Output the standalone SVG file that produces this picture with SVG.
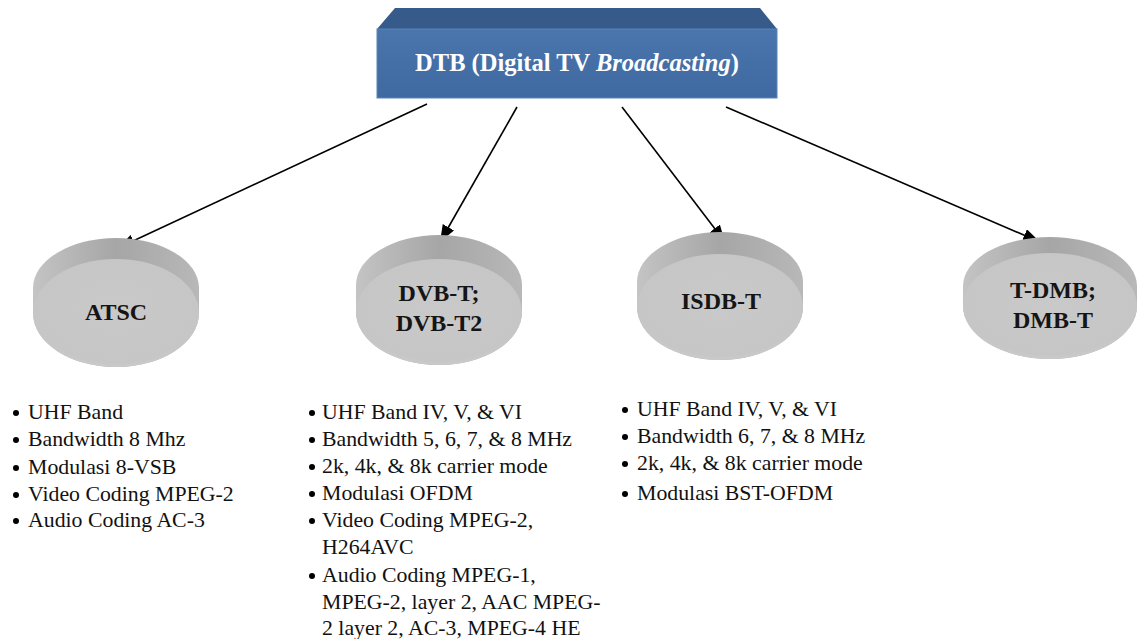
<svg xmlns="http://www.w3.org/2000/svg" width="1138" height="639" viewBox="0 0 1138 639">
<defs>
<linearGradient id="boxFront" x1="0" y1="0" x2="0" y2="1">
<stop offset="0" stop-color="#4a76ad"/>
<stop offset="1" stop-color="#3f69a0"/>
</linearGradient>
<linearGradient id="side" x1="0" y1="0" x2="1" y2="0">
<stop offset="0" stop-color="#c4c4c4"/>
<stop offset="0.5" stop-color="#a6a6a6"/>
<stop offset="1" stop-color="#b8b8b8"/>
</linearGradient>
<radialGradient id="face" cx="0.5" cy="0.45" r="0.6">
<stop offset="0" stop-color="#c9c9c9"/>
<stop offset="0.85" stop-color="#c6c6c6"/>
<stop offset="1" stop-color="#d0d0d0"/>
</radialGradient>
<marker id="ah" viewBox="0 0 17 13" refX="17" refY="6.5" markerWidth="17" markerHeight="13" markerUnits="userSpaceOnUse" orient="auto">
<path d="M0,0 L17,6.5 L0,13 z" fill="#000"/>
</marker>
</defs>
<style>
.side{fill:url(#side);}
.face{fill:url(#face);}
.lbl{font-family:"Liberation Serif","Times New Roman",serif;font-weight:bold;font-size:24px;fill:#151515;text-anchor:middle;}
.lst{font-family:"Liberation Serif","Times New Roman",serif;font-size:21.8px;fill:#111;}
.bul{fill:#000;}
.conn{stroke:#000;stroke-width:1.6;fill:none;marker-end:url(#ah);}
</style>
<rect width="1138" height="639" fill="#fff"/>

<g id="dtb">
<polygon points="395,8 760,8 777,29 377,29" fill="#365b8b"/>
<rect x="377" y="29" width="400" height="69" fill="url(#boxFront)" stroke="#5a84b8" stroke-width="1"/>
<text x="577" y="71" font-family="'Liberation Serif','Times New Roman',serif" font-weight="bold" font-size="24.5" fill="#fff" text-anchor="middle">DTB (Digital TV <tspan font-style="italic">Broadcasting</tspan>)</text>
</g>

<g id="connectors">
<line class="conn" x1="427" y1="104" x2="118" y2="248"/>
<line class="conn" x1="517" y1="107" x2="440" y2="242"/>
<line class="conn" x1="622" y1="107" x2="725" y2="242"/>
<line class="conn" x1="726" y1="107" x2="1040" y2="242"/>
</g>

<g id="atsc">
<path class="side" d="M33,288 A83,50 0 0 1 199,288 L199,313 A83,54 0 0 1 33,313 Z"/>
<ellipse class="face" cx="116" cy="313" rx="83" ry="54"/>
<text class="lbl" x="116" y="320">ATSC</text>
</g>

<g id="dvbt">
<path class="side" d="M356,285 A83,50 0 0 1 522,285 L522,312 A83,53 0 0 1 356,312 Z"/>
<ellipse class="face" cx="439" cy="312" rx="83" ry="53"/>
<text class="lbl" x="439" y="301">DVB-T;</text>
<text class="lbl" x="439" y="331">DVB-T2</text>
</g>

<g id="isdbt">
<path class="side" d="M637,282 A83,50 0 0 1 803,282 L803,307 A83,53 0 0 1 637,307 Z"/>
<ellipse class="face" cx="720" cy="307" rx="83" ry="53"/>
<text class="lbl" x="721" y="309">ISDB-T</text>
</g>

<g id="tdmb">
<path class="side" d="M963,286 A87,49 0 0 1 1137,286 L1137,306 A87,53 0 0 1 963,306 Z"/>
<ellipse class="face" cx="1050" cy="306" rx="87" ry="53"/>
<text class="lbl" x="1053" y="298">T-DMB;</text>
<text class="lbl" x="1053" y="328">DMB-T</text>
</g>

<g id="atsc-list">
<circle class="bul" cx="16" cy="413" r="3"/>
<circle class="bul" cx="16" cy="440" r="3"/>
<circle class="bul" cx="16" cy="468" r="3"/>
<circle class="bul" cx="16" cy="495" r="3"/>
<circle class="bul" cx="16" cy="521" r="3"/>
<text class="lst" x="28" y="419">UHF Band</text>
<text class="lst" x="28" y="446">Bandwidth 8 Mhz</text>
<text class="lst" x="28" y="474">Modulasi 8-VSB</text>
<text class="lst" x="28" y="501">Video Coding MPEG-2</text>
<text class="lst" x="28" y="527">Audio Coding AC-3</text>
</g>

<g id="dvbt-list">
<circle class="bul" cx="312" cy="413" r="3"/>
<circle class="bul" cx="312" cy="440" r="3"/>
<circle class="bul" cx="312" cy="467" r="3"/>
<circle class="bul" cx="312" cy="494" r="3"/>
<circle class="bul" cx="312" cy="521" r="3"/>
<circle class="bul" cx="312" cy="576" r="3"/>
<text class="lst" x="322" y="419">UHF Band IV, V, &amp; VI</text>
<text class="lst" x="322" y="446">Bandwidth 5, 6, 7, &amp; 8  MHz</text>
<text class="lst" x="322" y="473">2k, 4k, &amp; 8k carrier mode</text>
<text class="lst" x="322" y="500">Modulasi OFDM</text>
<text class="lst" x="322" y="527">Video Coding MPEG-2,</text>
<text class="lst" x="322" y="554">H264AVC</text>
<text class="lst" x="322" y="582">Audio Coding MPEG-1,</text>
<text class="lst" x="322" y="609">MPEG-2, layer 2, AAC MPEG-</text>
<text class="lst" x="322" y="635">2 layer 2, AC-3, MPEG-4 HE</text>
</g>

<g id="isdbt-list">
<circle class="bul" cx="625" cy="410" r="3"/>
<circle class="bul" cx="625" cy="437" r="3"/>
<circle class="bul" cx="625" cy="464" r="3"/>
<circle class="bul" cx="625" cy="494" r="3"/>
<text class="lst" x="637" y="416">UHF Band IV, V, &amp; VI</text>
<text class="lst" x="637" y="443">Bandwidth 6, 7, &amp; 8 MHz</text>
<text class="lst" x="637" y="470">2k, 4k, &amp; 8k carrier mode</text>
<text class="lst" x="637" y="500">Modulasi BST-OFDM</text>
</g>
</svg>
